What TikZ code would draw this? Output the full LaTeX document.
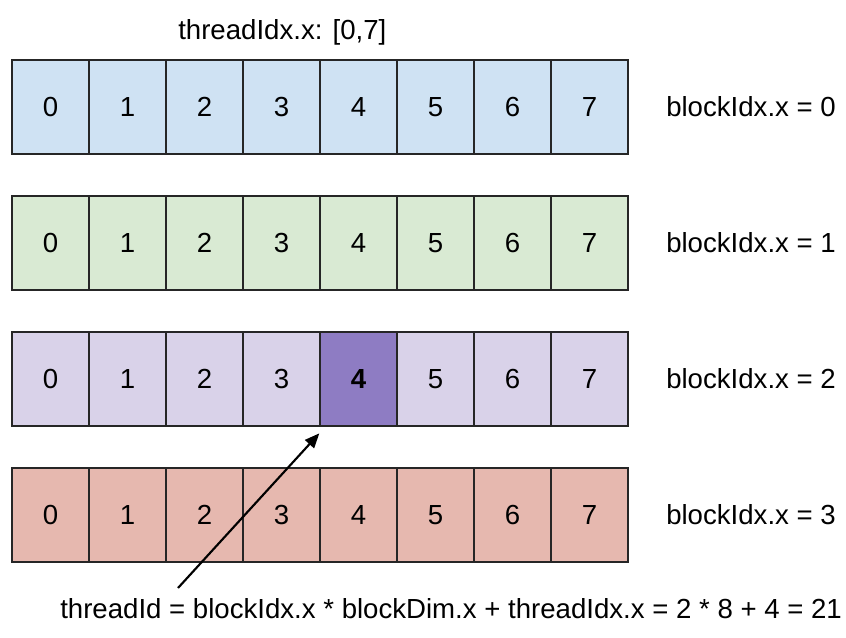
\documentclass[tikz,border=0pt]{standalone}
\usepackage{fontspec}
\setmainfont{Liberation Sans}
\usetikzlibrary{arrows.meta}
\definecolor{rowblue}{HTML}{CFE2F3}
\definecolor{rowgreen}{HTML}{D9EAD3}
\definecolor{rowpurple}{HTML}{D9D2E9}
\definecolor{cellhot}{HTML}{8E7CC3}
\definecolor{rowred}{HTML}{E6B8AF}
\begin{document}
\begin{tikzpicture}[x=0.75pt,y=-0.75pt,
  cell/.style={draw=black!85, line width=0.8pt, minimum width=57.75pt, minimum height=70.5pt,
    inner sep=0pt, outer sep=0pt, font=\fontsize{20.7}{24}\selectfont},
  lbl/.style={anchor=west, inner sep=0pt, font=\fontsize{20.7}{24}\selectfont},
  pointer/.style={line width=1.6pt, -{Triangle[length=11pt,width=9pt]}}]
\useasboundingbox (0,0) rectangle (846,637);

\node[lbl] (title) at (178,32) {threadIdx.x: [0,7]};

% four blocks of eight threads each
\foreach \r/\col/\cy in {0/rowblue/107, 1/rowgreen/243, 2/rowpurple/379, 3/rowred/515} {
  \foreach \i in {0,...,7} {
    \node[cell, fill=\col] (r\r c\i) at ({50.5+77*\i},\cy) {\i};
  }
  \node[lbl] (block\r) at (666,\cy) {blockIdx.x = \r};
}

% highlighted thread
\node[cell, fill=cellhot, font=\fontsize{20.7}{24}\selectfont\bfseries] (hot) at ({50.5+77*4},379) {4};

\node[lbl] (formula) at (60,609) {threadId = blockIdx.x * blockDim.x + threadIdx.x = 2 * 8 + 4 = 21};

\coordinate (tail) at (178,588);
\coordinate (tip) at ([xshift=-0.5pt,yshift=-5.5pt]hot.south west);
\draw[pointer] (tail) -- (tip);
\end{tikzpicture}
\end{document}
